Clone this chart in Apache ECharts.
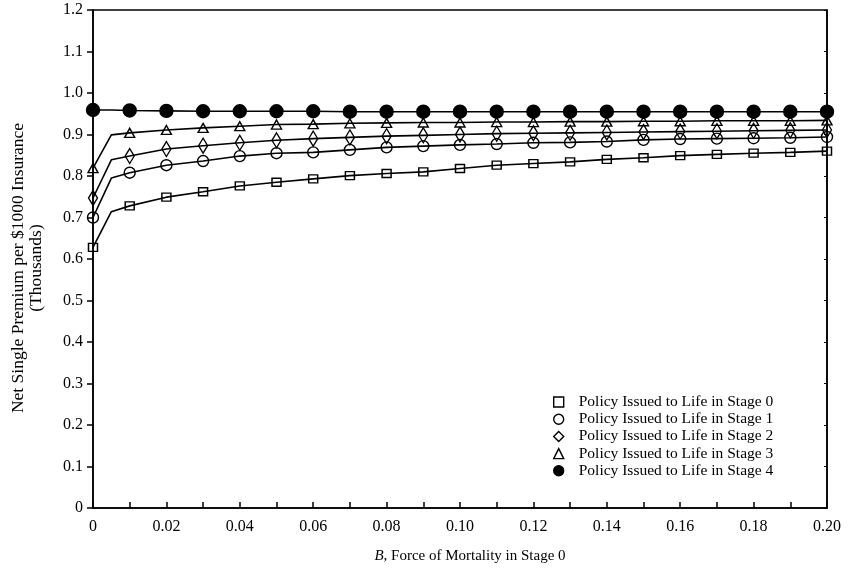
<!DOCTYPE html>
<html>
<head>
<meta charset="utf-8">
<script src="https://cdn.jsdelivr.net/npm/echarts@6/dist/echarts.min.js"></script>
<style>html,body{margin:0;padding:0;background:#fff}#c{width:852px;height:570px}</style>
</head>
<body>
<div id="c"></div>
<script>
// x values (B); 0.005 is an unmarked bend point
var xVals = [0, 0.005, 0.01, 0.02, 0.03, 0.04, 0.05, 0.06, 0.07, 0.08, 0.09, 0.10, 0.11, 0.12, 0.13, 0.14, 0.15, 0.16, 0.17, 0.18, 0.19, 0.20];
var stage0 = [0.628, 0.714, 0.728, 0.749, 0.762, 0.776, 0.785, 0.793, 0.801, 0.806, 0.810, 0.818, 0.826, 0.830, 0.834, 0.840, 0.844, 0.849, 0.852, 0.855, 0.857, 0.860];
var stage1 = [0.700, 0.795, 0.808, 0.826, 0.836, 0.848, 0.855, 0.857, 0.863, 0.869, 0.872, 0.875, 0.877, 0.880, 0.881, 0.883, 0.887, 0.889, 0.890, 0.891, 0.892, 0.894];
var stage2 = [0.747, 0.839, 0.848, 0.865, 0.873, 0.880, 0.886, 0.890, 0.893, 0.896, 0.898, 0.900, 0.902, 0.903, 0.904, 0.905, 0.906, 0.907, 0.908, 0.909, 0.910, 0.911];
var stage3 = [0.819, 0.899, 0.904, 0.911, 0.916, 0.920, 0.924, 0.925, 0.927, 0.928, 0.929, 0.929, 0.930, 0.930, 0.931, 0.931, 0.932, 0.932, 0.933, 0.933, 0.933, 0.934];
var stage4 = [0.959, 0.959, 0.958, 0.957, 0.956, 0.956, 0.956, 0.956, 0.955, 0.955, 0.955, 0.955, 0.955, 0.955, 0.955, 0.955, 0.955, 0.955, 0.955, 0.955, 0.955, 0.955];
var seriesNames = ['Policy Issued to Life in Stage 0', 'Policy Issued to Life in Stage 1', 'Policy Issued to Life in Stage 2', 'Policy Issued to Life in Stage 3', 'Policy Issued to Life in Stage 4'];
var unmarkedX = [0.005];

var FONT = '"Liberation Serif", "DejaVu Serif", serif';
var sym = [
  {symbol: 'rect', size: [9, 8], fill: 'rgba(0,0,0,0)'},
  {symbol: 'circle', size: 11, fill: 'rgba(0,0,0,0)'},
  {symbol: 'diamond', size: [9, 15], fill: 'rgba(0,0,0,0)'},
  {symbol: 'triangle', size: [10, 9], fill: 'rgba(0,0,0,0)'},
  {symbol: 'circle', size: 13, fill: '#000'}
];
var allY = [stage0, stage1, stage2, stage3, stage4];

function build(ys) {
  return xVals.map(function (x, i) {
    var d = {value: [x, ys[i]]};
    if (unmarkedX.indexOf(x) >= 0) d.symbol = 'none';
    return d;
  });
}

var series = allY.map(function (ys, k) {
  return {
    name: seriesNames[k],
    type: 'line',
    data: build(ys),
    symbol: sym[k].symbol,
    symbolSize: sym[k].size,
    showAllSymbol: true,
    z: 2 + k,
    lineStyle: {color: '#000', width: 1.6},
    itemStyle: {color: sym[k].fill, borderColor: '#000', borderWidth: 1.4},
    emphasis: {disabled: true},
    animation: false
  };
});

var chart = echarts.init(document.getElementById('c'), null, {renderer: 'canvas'});
chart.setOption({
  backgroundColor: '#fff',
  animation: false,
  grid: {left: 93, right: 25, top: 10, bottom: 62, show: true, borderColor: '#000', borderWidth: 1.5, backgroundColor: 'transparent'},
  legend: {
    orient: 'vertical',
    left: 548, top: 389,
    itemWidth: 10, itemHeight: 10, itemGap: 1.2,
    textStyle: {fontFamily: FONT, fontSize: 15.5, color: '#000', lineHeight: 15, padding: [0, 0, 0, 10]},
    data: seriesNames.map(function (n, k) {
      var icons = ['rect', 'circle', 'diamond', 'triangle', 'circle'];
      return {name: n, icon: icons[k],
        itemStyle: {color: sym[k].fill, borderColor: '#000', borderWidth: 1.4}};
    })
  },
  xAxis: {
    type: 'value', min: 0, max: 0.2, interval: 0.02,
    name: '{i|B}, Force of Mortality in Stage 0',
    nameLocation: 'middle', nameGap: 41,
    nameTextStyle: {fontFamily: FONT, fontSize: 15, color: '#000', padding: [0, 0, 0, 20],
      rich: {i: {fontFamily: FONT, fontSize: 15, fontStyle: 'italic', color: '#000'}}},
    axisLine: {show: true, lineStyle: {color: '#000', width: 1.6}},
    axisTick: {show: true, inside: true, length: 6, lineStyle: {color: '#000', width: 1.5}},
    minorTick: {show: true, splitNumber: 2, length: 6, lineStyle: {color: '#000', width: 1.5}},
    splitLine: {show: false},
    axisLabel: {fontFamily: FONT, fontSize: 16, color: '#000', margin: 11,
      formatter: function (v) { return v === 0 ? '0' : v.toFixed(2); }}
  },
  yAxis: [{
    type: 'value', min: 0, max: 1.2, interval: 0.1,
    name: 'Net Single Premium per $1000 Insurance\n(Thousands)',
    nameLocation: 'middle', nameGap: 48, nameRotate: 90,
    nameTextStyle: {fontFamily: FONT, fontSize: 17.5, color: '#000', lineHeight: 18, align: 'center', padding: [0, 18, 0, 0]},
    axisLine: {show: true, lineStyle: {color: '#000', width: 1.6}},
    axisTick: {show: true, inside: false, length: 6, lineStyle: {color: '#000', width: 1.5}},
    splitLine: {show: false},
    axisLabel: {fontFamily: FONT, fontSize: 16, color: '#000', margin: 10,
      formatter: function (v) { return v === 0 ? '0' : v.toFixed(1); }}
  }, {
    type: 'value', min: 0, max: 1.2, interval: 0.1, position: 'right',
    axisLine: {show: true, lineStyle: {color: '#000', width: 1.6}},
    axisTick: {show: true, inside: true, length: 3, lineStyle: {color: '#000', width: 1}},
    axisLabel: {show: false}, splitLine: {show: false}
  }],
  series: series
});
</script>
</body>
</html>
